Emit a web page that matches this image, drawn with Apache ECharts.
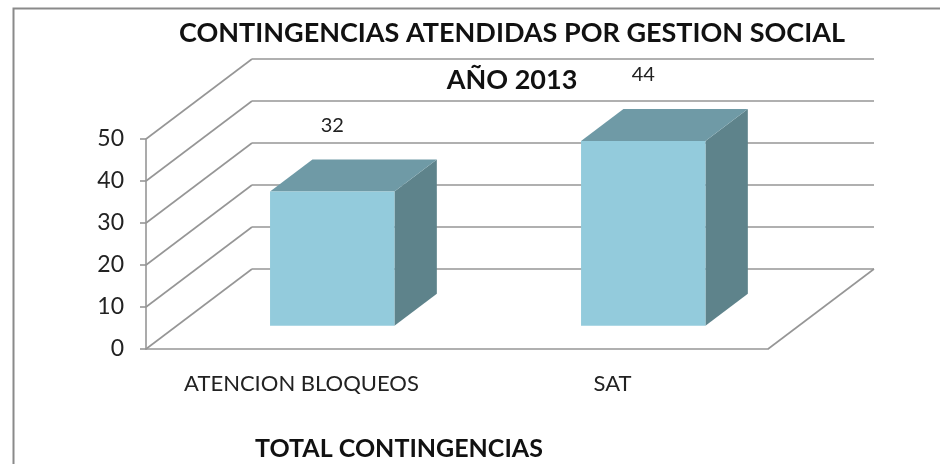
<!DOCTYPE html>
<html>
<head>
<meta charset="utf-8">
<script src="https://cdn.jsdelivr.net/npm/echarts@6/dist/echarts.min.js"></script>
<style>
  html, body { margin: 0; padding: 0; background: #fff; }
  #main { width: 940px; height: 464px; }
</style>
</head>
<body>
<div id="main"></div>
<script>
const categories = ['ATENCION BLOQUEOS', 'SAT']
const values = [32, 44]
const yTicks = [0, 10, 20, 30, 40, 50]

// perspective offset of the back wall
const DX = 106, DY = -80
const FRONT = 0.29, BACK = 0.69
const BAR_W = 0.4

var chart = echarts.init(document.getElementById('main'))

function wallItem(params, api) {
  let v = api.value(0)
  let p = api.coord([0, v])
  let start = api.coord([0, 0])
  let left = params.coordSys.x
  let right = left + params.coordSys.width
  let lineStyle = { stroke: '#969696', lineWidth: 1.6 }
  let children = [
    { type: 'line', shape: { x1: left, y1: p[1], x2: left + DX, y2: p[1] + DY }, style: lineStyle },
    { type: 'line', shape: { x1: left + DX, y1: p[1] + DY, x2: right + DX, y2: p[1] + DY }, style: lineStyle }
  ]
  if (v === 0) {
    children.push({ type: 'line', shape: { x1: right, y1: start[1], x2: right + DX, y2: start[1] + DY }, style: lineStyle })
  }
  return { type: 'group', silent: true, children }
}

function barItem(params, api) {
  let i = api.value(0)
  let v = api.value(1)
  let base = api.coord([i, 0])
  let top = api.coord([i, v])
  let w = api.size([1, 0])[0] * BAR_W
  let fx = DX * FRONT, fy = DY * FRONT
  let bx = DX * (BACK - FRONT), by = DY * (BACK - FRONT)
  let x0 = base[0] - w / 2 + fx, x1 = base[0] + w / 2 + fx
  let yb = base[1] + fy, yt = top[1] + fy
  return {
    type: 'group',
    children: [
      { type: 'polygon', shape: { points: [[x1, yt], [x1 + bx, yt + by], [x1 + bx, yb + by], [x1, yb]] }, style: { fill: '#5e838b' } },
      { type: 'polygon', shape: { points: [[x0, yt], [x0 + bx, yt + by], [x1 + bx, yt + by], [x1, yt]] }, style: { fill: '#6f9aa6' } },
      { type: 'rect', shape: { x: x0, y: yt, width: w, height: yb - yt }, style: { fill: '#93cbdc' } },
      { type: 'text', style: { text: String(v), x: (x0 + x1) / 2, y: yt + by - 34, align: 'center', verticalAlign: 'middle', fill: '#222', font: '20px Lato' } }
    ]
  }
}

let option = {
  animation: false,
  textStyle: { fontFamily: 'Lato' },
  title: {
    text: 'CONTINGENCIAS ATENDIDAS POR GESTION SOCIAL\nAÑO 2013',
    left: 507, top: 5, textAlign: 'center',
    textStyle: { fontSize: 27, fontWeight: 'bold', color: '#111', lineHeight: 47, fontFamily: 'Lato' }
  },
  graphic: [
    { type: 'rect', left: 11, top: 6, shape: { width: 1000, height: 1000 }, style: { fill: 'none', stroke: '#8a8a8a', lineWidth: 2 }, silent: true }
  ],
  grid: { left: 146, right: 172, top: 139, bottom: 115, outerBoundsMode: 'none' },
  xAxis: {
    type: 'category',
    data: categories,
    name: 'TOTAL CONTINGENCIAS',
    nameLocation: 'middle',
    nameGap: 87,
    nameTextStyle: { fontSize: 25, fontWeight: 'bold', color: '#111', padding: [0, 116, 0, 0] },
    axisLine: { lineStyle: { color: '#969696', width: 1.6 } },
    axisTick: { show: false },
    axisLabel: { fontSize: 22, color: '#222', margin: 24 },
    splitLine: { show: false }
  },
  yAxis: {
    type: 'value',
    min: 0, max: 50, interval: 10,
    axisLine: { show: true, lineStyle: { color: '#969696', width: 1.6 } },
    axisTick: { show: true, length: 6, lineStyle: { color: '#969696', width: 1.6 } },
    axisLabel: { fontSize: 23, color: '#222', margin: 22 },
    splitLine: { show: false }
  },
  series: [
    {
      type: 'custom',
      renderItem: wallItem,
      data: yTicks.map(t => [t]),
      encode: { y: 0 },
      z: 1
    },
    {
      type: 'custom',
      renderItem: barItem,
      data: values.map((v, i) => [i, v]),
      encode: { x: 0, y: 1 },
      z: 2
    }
  ]
}

chart.setOption(option)
</script>
</body>
</html>
